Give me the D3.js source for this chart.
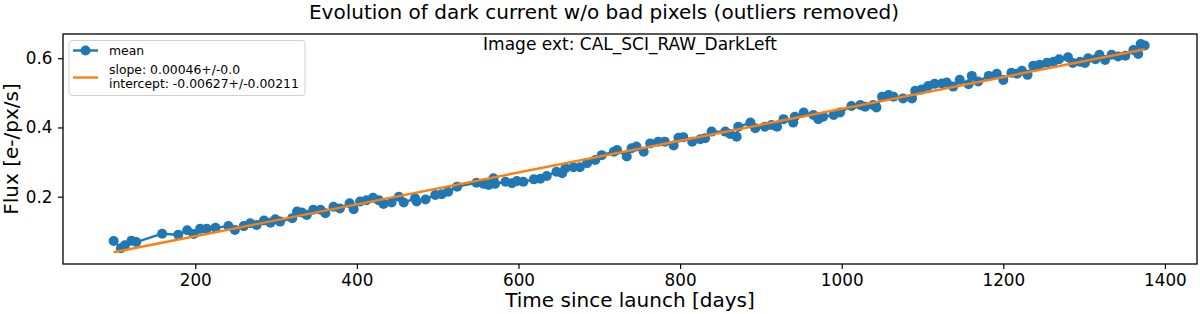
<!DOCTYPE html>
<html>
<head>
<meta charset="utf-8">
<script src="https://cdn.jsdelivr.net/npm/d3@7"></script>
<style>
  html, body { margin: 0; padding: 0; background: #fff; }
  svg { display: block; font-family: "DejaVu Sans", sans-serif; }
</style>
</head>
<body>
<svg id="chart" width="1200" height="314"></svg>
<script>
const titleText = "Evolution of dark current w/o bad pixels (outliers removed)";
const subText = "Image ext: CAL_SCI_RAW_DarkLeft";
const xLabel = "Time since launch [days]";
const yLabel = "Flux [e-/px/s]";
const xTicks = [200, 400, 600, 800, 1000, 1200, 1400];
const yTicks = [0.2, 0.4, 0.6];
const legendMean = "mean";
const legendFit = ["slope: 0.00046+/-0.0", "intercept: -0.00627+/-0.00211"];

const days = [99,108,113,121,127,159,179,190,198,206,214,225,241,249,260,268,276,285,293,299,305,320,326,332,338,346,355,361,371,379,391,396,404,412,420,427,433,443,452,458,472,474,485,497,505,513,524,548,557,563,569,571,584,592,598,606,619,627,635,647,654,658,668,676,685,695,703,718,722,734,740,746,755,763,773,781,792,798,804,815,825,831,839,856,862,870,872,887,893,905,913,920,928,940,942,953,965,971,977,990,998,1012,1023,1029,1039,1043,1050,1058,1064,1076,1087,1091,1099,1107,1115,1124,1130,1138,1146,1157,1161,1169,1182,1192,1200,1210,1217,1223,1230,1237,1245,1254,1262,1269,1280,1286,1295,1301,1305,1314,1319,1326,1334,1342,1351,1361,1367,1370,1375];
const flux = [0.072,0.051,0.060,0.073,0.069,0.093,0.090,0.103,0.092,0.107,0.107,0.110,0.115,0.104,0.115,0.123,0.118,0.131,0.125,0.135,0.128,0.138,0.157,0.154,0.147,0.162,0.162,0.152,0.171,0.166,0.181,0.164,0.186,0.190,0.197,0.190,0.179,0.183,0.200,0.183,0.195,0.186,0.192,0.205,0.207,0.214,0.229,0.240,0.237,0.234,0.253,0.237,0.243,0.239,0.245,0.243,0.250,0.252,0.260,0.272,0.268,0.282,0.285,0.285,0.297,0.306,0.320,0.330,0.335,0.316,0.340,0.345,0.330,0.354,0.359,0.359,0.348,0.370,0.372,0.359,0.366,0.369,0.388,0.388,0.381,0.373,0.402,0.414,0.398,0.402,0.407,0.402,0.424,0.414,0.431,0.443,0.436,0.424,0.431,0.436,0.443,0.462,0.465,0.460,0.465,0.458,0.489,0.494,0.489,0.484,0.484,0.506,0.510,0.520,0.526,0.527,0.530,0.518,0.538,0.525,0.549,0.533,0.549,0.555,0.537,0.558,0.555,0.564,0.552,0.578,0.581,0.587,0.590,0.597,0.603,0.586,0.590,0.586,0.600,0.597,0.610,0.595,0.610,0.605,0.607,0.624,0.612,0.641,0.637];
const fitDays = [99, 1375];
const fitFlux = [0.0395, 0.626];

const C0 = "#1f77b4", C1 = "#ff7f0e";
const svg = d3.select("#chart");
const L = 63, R = 1197, T = 34, B = 264;

const x = d3.scaleLinear().domain([36.3, 1439.7]).range([L, R]);
const y = d3.scaleLinear().domain([0.0055, 0.670]).range([B, T]);

// title
svg.append("text").attr("x", 604).attr("y", 19).attr("text-anchor", "middle")
  .attr("font-size", 20).attr("fill", "#000").text(titleText);

// axes
const xAxis = svg.append("g").attr("transform", `translate(0,${B})`)
  .call(d3.axisBottom(x).tickValues(xTicks).tickFormat(d3.format("d")).tickSize(5).tickPadding(5.5));
const yAxis = svg.append("g").attr("transform", `translate(${L},0)`)
  .call(d3.axisLeft(y).tickValues(yTicks).tickFormat(d3.format(".1f")).tickSize(5).tickPadding(5.5));
[xAxis, yAxis].forEach(g => {
  g.select(".domain").remove();
  g.selectAll("line").attr("stroke", "#000").attr("stroke-width", 1.2);
  g.selectAll("text").attr("font-size", 16.8).attr("fill", "#000").attr("font-family", "DejaVu Sans");
});

// clip
svg.append("clipPath").attr("id", "clip").append("rect")
  .attr("x", L).attr("y", T).attr("width", R - L).attr("height", B - T);
const plot = svg.append("g").attr("clip-path", "url(#clip)");

const pts = days.map((d, i) => [d, flux[i]]);
plot.append("path").datum(pts)
  .attr("d", d3.line().x(d => x(d[0])).y(d => y(d[1])))
  .attr("fill", "none").attr("stroke", C0).attr("stroke-width", 2.4).attr("stroke-linejoin", "round");
plot.selectAll("circle.pt").data(pts).enter().append("circle")
  .attr("class", "pt").attr("cx", d => x(d[0])).attr("cy", d => y(d[1])).attr("r", 5).attr("fill", C0);

const fit = fitDays.map((d, i) => [d, fitFlux[i]]);
plot.append("path").datum(fit)
  .attr("d", d3.line().x(d => x(d[0])).y(d => y(d[1])))
  .attr("fill", "none").attr("stroke", C1).attr("stroke-width", 2.4);

// frame
svg.append("rect").attr("x", L).attr("y", T).attr("width", R - L).attr("height", B - T)
  .attr("fill", "none").attr("stroke", "#000").attr("stroke-width", 1.3);

// inner annotation
svg.append("text").attr("x", (L + R) / 2).attr("y", 50).attr("text-anchor", "middle")
  .attr("font-size", 17).attr("fill", "#000").text(subText);

// legend
const lg = svg.append("g");
lg.append("rect").attr("x", 69).attr("y", 40.5).attr("width", 236).attr("height", 55).attr("rx", 3)
  .attr("fill", "#fff").attr("fill-opacity", 0.8).attr("stroke", "#d0d0d0").attr("stroke-width", 1);
lg.append("line").attr("x1", 73).attr("x2", 98).attr("y1", 50.5).attr("y2", 50.5)
  .attr("stroke", C0).attr("stroke-width", 2.4);
lg.append("circle").attr("cx", 85.5).attr("cy", 50.5).attr("r", 5).attr("fill", C0);
lg.append("text").attr("x", 109).attr("y", 55).attr("font-size", 12.4).attr("fill", "#000").text(legendMean);
lg.append("line").attr("x1", 73).attr("x2", 98).attr("y1", 77.5).attr("y2", 77.5)
  .attr("stroke", C1).attr("stroke-width", 2.4);
legendFit.forEach((t, i) => {
  lg.append("text").attr("x", 109).attr("y", 73.5 + i * 14.8).attr("font-size", 12.4).attr("fill", "#000").text(t);
});

// axis labels
svg.append("text").attr("x", (L + R) / 2).attr("y", 307).attr("text-anchor", "middle")
  .attr("font-size", 20).attr("fill", "#000").text(xLabel);
svg.append("text").attr("transform", `translate(17.5,${(T + B) / 2}) rotate(-90)`).attr("text-anchor", "middle")
  .attr("font-size", 20).attr("fill", "#000").text(yLabel);
</script>
</body>
</html>
